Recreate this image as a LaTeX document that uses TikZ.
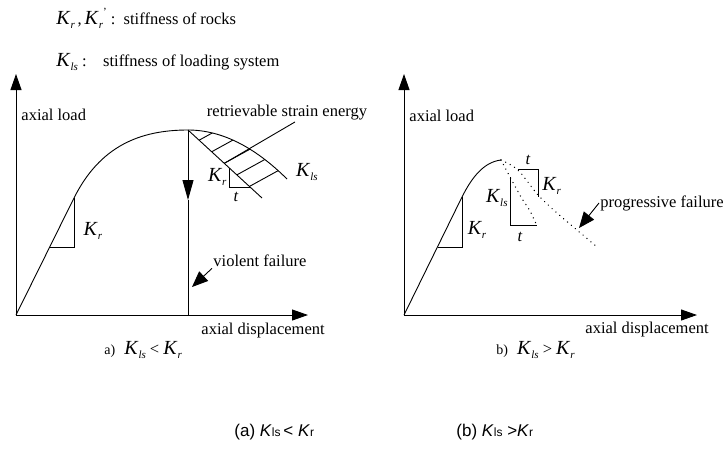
\documentclass[tikz,border=0pt]{standalone}
\usepackage{fontspec}
\setmainfont{Liberation Serif}
\newfontfamily\capfont{Liberation Sans}
\usetikzlibrary{arrows.meta}
\newcommand{\bigK}{{\fontsize{20}{20}\selectfont\textit{K}}}
\newcommand{\Ks}[1]{\bigK\raisebox{-4pt}{\fontsize{11}{11}\selectfont\textit{#1}}}
\newcommand{\Kq}{\bigK\raisebox{-4pt}{\fontsize{11}{11}\selectfont\textit{r}}\raisebox{9pt}{\fontsize{11}{11}\selectfont '}}
\newcommand{\capsub}[1]{{\fontsize{12}{12}\selectfont #1}}

\begin{document}
\begin{tikzpicture}[
    x=1pt, y=-1pt,
    line width=0.9pt,
    lbl/.style={inner sep=1pt, font=\fontsize{16.5}{19}\selectfont},
    subcap/.style={inner sep=1pt, font=\capfont\fontsize{17}{19}\selectfont},
    axis/.style={-{Triangle[length=16pt,width=11pt]}},
    pointer/.style={-{Triangle[length=16pt,width=13pt]}},
    drop/.style={-{Triangle[length=20pt,width=11pt]}},
    dotline/.style={line width=1.4pt, dash pattern=on 0.1pt off 5pt, line cap=round}
]
    \useasboundingbox (0,0) rectangle (727,448);

    % legend
    \node[lbl, anchor=west] (legr) at (55,18) {\Ks{r}\,,\,\Kq\ :\ \ stiffness of rocks};
    \node[lbl, anchor=west] (legls) at (55,62) {\Ks{ls}\ :\quad stiffness of loading system};

    % a) violent failure
    \coordinate (oA) at (16,315);
    \draw[axis] (oA) -- (16,74);
    \draw[axis] (oA) -- (308,315);
    \node[lbl, anchor=west] (loadA) at (20,115) {axial load};
    \node[lbl, anchor=west] (dispA) at (200,331) {axial displacement};
    \draw (oA) -- (74,198) .. controls (100,146) and (140,130) .. (188,130) coordinate (peakA)
        .. controls (221,130) and (254,146.3) .. (287,179);
    \draw (50,247) -| (74,198);
    \node[lbl] (krA) at (93,231) {\Ks{r}};

    \draw (peakA) -- (262,198);
    \node[lbl] (klsA) at (307,172) {\Ks{ls}};
    \draw (229,167.7) |- (250,187);
    \node[lbl, anchor=east] (krA2) at (228,177) {\Ks{r}};
    \node[lbl] (tA) at (236,197) {\textit{t}};

    \begin{scope}
        \clip (peakA) .. controls (221,130) and (254,146.3) .. (287,179) -- (257.4,193.8) -- cycle;
        \foreach \s in {0.15,0.32,0.49,0.66,0.83}
            \draw ({188+74*\s},{130+68*\s}) -- ++(100,-55);
    \end{scope}
    \node[lbl] (energy) at (287,113) {retrievable strain energy};
    \draw ([xshift=8pt]energy.south) -- ({188+74*0.49},{130+68*0.49});

    \coordinate (dropA) at (188,200);
    \coordinate (footA) at (188,315);
    \draw[drop] (peakA) -- (dropA);
    \draw (dropA) -- (footA);
    \node[lbl, anchor=west] (violent) at (212,261) {violent failure};
    \coordinate (vtip) at (192,287);
    \draw[pointer] (violent.south west) -- (vtip);

    \node[lbl, anchor=west] (capA) at (103,350) {{\fontsize{14}{16}\selectfont a)}\hspace{9pt}\Ks{ls}\ < \Ks{r}};

    % b) progressive failure
    \coordinate (oB) at (404,315);
    \draw[axis] (oB) -- (404,74);
    \draw[axis] (oB) -- (697,315);
    \node[lbl, anchor=west] (loadB) at (408,116) {axial load};
    \node[lbl, anchor=west] (dispB) at (584,330) {axial displacement};
    \draw (oB) -- (462,197) .. controls (472,177) and (484,162) .. (501,160) coordinate (peakB);
    \draw (438,247) -| (462,197);
    \node[lbl] (krB) at (477,230) {\Ks{r}};

    \draw[dotline] plot[smooth] coordinates {(501,160) (510,177) (521,197) (530,211) (537,226)};
    \draw[dotline] plot[smooth] coordinates {(501,160) (518,170) (538,195) (557,213) (577,230) (597,247)};
    \draw (510,177) |- (537,225);
    \node[lbl, anchor=east] (klsB) at (509,198) {\Ks{ls}};
    \node[lbl] (tB) at (520,237) {\textit{t}};
    \draw (518,169) -| (538,197);
    \node[lbl] (tB2) at (528,160) {\textit{t}};
    \node[lbl, anchor=west] (krB2) at (541,186) {\Ks{r}};

    \node[lbl, anchor=west] (progressive) at (599,203) {progressive failure};
    \coordinate (ptip) at (579,228);
    \draw[pointer] (progressive.west) -- (ptip);

    \node[lbl, anchor=west] (capB) at (495,350) {{\fontsize{14}{16}\selectfont b)}\hspace{9pt}\Ks{ls}\ > \Ks{r}};

    % sub captions
    \node[subcap, anchor=west] (subA) at (233,432) {(a) \textit{K}\capsub{ls}\,< \textit{K}\capsub{r}};
    \node[subcap, anchor=west] (subB) at (455,432) {(b) \textit{K}\capsub{ls} >\textit{K}\capsub{r}};
\end{tikzpicture}
\end{document}
